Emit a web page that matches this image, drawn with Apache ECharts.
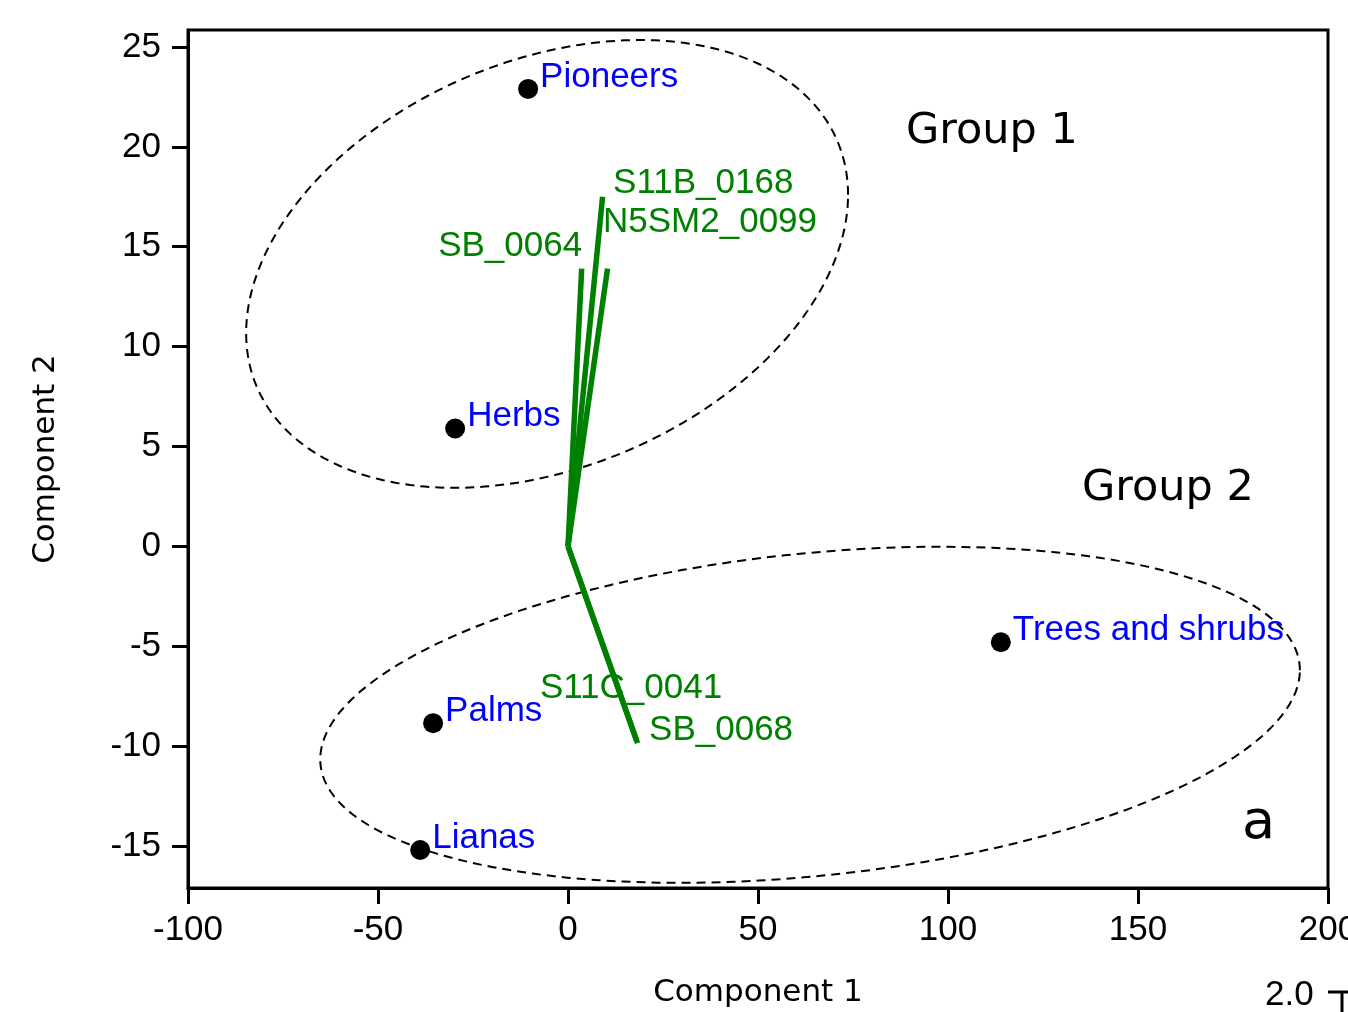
<!DOCTYPE html>
<html><head><meta charset="utf-8">
<script src="https://cdn.jsdelivr.net/npm/echarts@6/dist/echarts.min.js"></script>
<style>html,body{margin:0;padding:0;background:#fff}#c{width:1348px;height:1012px}</style>
</head><body><div id="c"></div>
<script>
// ---- data ----
const groupNames = ['Pioneers', 'Herbs', 'Palms', 'Lianas', 'Trees and shrubs'];
const groupX = [-10.5, -29.7, -35.5, -38.9, 113.9];
const groupY = [22.9, 5.9, -8.85, -15.2, -4.8];

const loadingNames = ['SB_0064', 'S11B_0168', 'N5SM2_0099', 'S11C_0041', 'SB_0068'];
const loadingX = [3.6, 9.1, 10.4, 18.0, 18.3];
const loadingY = [13.9, 17.5, 13.9, -9.7, -9.85];

const ellipseNames = ['Group 1', 'Group 2'];
const ellipseCX = [-5.5, 63.7];
const ellipseCY = [14.14, -8.43];
const ellipseUX = [79.2, 128.9];
const ellipseUY = [3.46, 2.23];
const ellipseVY = [10.66, 8.11];

const xTicks = [-100, -50, 0, 50, 100, 150, 200];
const yTicks = [-15, -10, -5, 0, 5, 10, 15, 20, 25];

// ---- styles ----
const SANS = "'Liberation Sans', Arial, sans-serif";
const DEJA = "'DejaVu Sans', Verdana, sans-serif";
const GREEN = '#008000';
const loadingLabelStyle = {
  'SB_0064':    { position: [1, -22],   align: 'right' },
  'S11B_0168':  { position: [11, -13],  align: 'left' },
  'N5SM2_0099': { position: [-4, -46],  align: 'left' },
  'S11C_0041':  { position: [-96, -51], align: 'left' },
  'SB_0068':    { position: [12, -12],  align: 'left' }
};

const chart = echarts.init(document.getElementById('c'), null, { renderer: 'canvas' });

const series = [];
series.push({
  type: 'custom',
  coordinateSystem: 'cartesian2d',
  silent: true,
  z: 1,
  data: ellipseNames.map((n, i) => [ellipseCX[i], ellipseCY[i], i]),
  encode: { x: 0, y: 1 },
  renderItem: function (params, api) {
    const i = api.value(2);
    const pts = [];
    const N = 240;
    for (let k = 0; k <= N; k++) {
      const t = k / N * 2 * Math.PI;
      pts.push(api.coord([
        ellipseCX[i] + ellipseUX[i] * Math.cos(t),
        ellipseCY[i] + ellipseUY[i] * Math.cos(t) + ellipseVY[i] * Math.sin(t)
      ]));
    }
    return { type: 'polyline', shape: { points: pts },
      style: { fill: null, stroke: '#000', lineWidth: 2, lineDash: [9, 6] } };
  }
});

loadingNames.forEach((n, i) => {
  series.push({
    type: 'line', name: n, z: 3,
    data: [[0, 0], [loadingX[i], loadingY[i]]],
    showSymbol: false, symbol: 'none',
    lineStyle: { color: GREEN, width: 5.5, opacity: 1 },
    silent: true, animation: false
  });
});

series.push({
  type: 'scatter', z: 4, silent: true,
  symbolSize: 1,
  itemStyle: { color: 'transparent', opacity: 1 },
  data: loadingNames.map((n, i) => ({
    value: [loadingX[i], loadingY[i]], name: n,
    label: {
      show: true, formatter: n, color: GREEN, fontSize: 35, fontFamily: SANS,
      position: loadingLabelStyle[n].position, align: loadingLabelStyle[n].align,
      verticalAlign: 'middle'
    }
  }))
});

series.push({
  type: 'scatter', z: 5, silent: true,
  symbolSize: 20,
  itemStyle: { color: '#000', opacity: 1 },
  label: {
    show: true, position: 'right', distance: 2, offset: [0, -12],
    formatter: p => p.name, color: '#0000ff', fontSize: 35, fontFamily: SANS
  },
  data: groupNames.map((n, i) => ({ value: [groupX[i], groupY[i]], name: n }))
});

chart.setOption({
  animation: false,
  backgroundColor: '#fff',
  grid: { left: 188, right: 20, top: 30, bottom: 124, containLabel: false, outerBoundsMode: 'none',
    show: true, borderColor: '#000', borderWidth: 3, backgroundColor: 'transparent' },
  xAxis: {
    type: 'value', min: -100, max: 200, interval: 50,
    name: 'Component 1', nameLocation: 'middle', nameGap: 89,
    nameTextStyle: { fontFamily: DEJA, fontSize: 31, color: '#000' },
    axisLine: { show: true, onZero: false, lineStyle: { color: '#000', width: 3 } },
    axisTick: { show: true, length: 16, lineStyle: { color: '#000', width: 3 }, customValues: xTicks },
    axisLabel: { fontFamily: SANS, fontSize: 35, color: '#000', margin: 25, customValues: xTicks, hideOverlap: false },
    splitLine: { show: false }
  },
  yAxis: {
    type: 'value', min: -17.1, max: 25.85,
    name: 'Component 2', nameLocation: 'middle', nameGap: 127,
    nameTextStyle: { fontFamily: DEJA, fontSize: 31, color: '#000' },
    axisLine: { show: true, onZero: false, lineStyle: { color: '#000', width: 3 } },
    axisTick: { show: true, length: 16, lineStyle: { color: '#000', width: 3 }, customValues: yTicks },
    axisLabel: { fontFamily: SANS, fontSize: 35, color: '#000', margin: 27, customValues: yTicks },
    splitLine: { show: false }
  },
  graphic: [
    { type: 'text', left: 906, top: 110, style: { text: 'Group 1', font: "43px 'DejaVu Sans'", fill: '#000' } },
    { type: 'text', left: 1082, top: 467, style: { text: 'Group 2', font: "43px 'DejaVu Sans'", fill: '#000' } },
    { type: 'text', left: 1242, top: 797, style: { text: 'a', font: "54px 'DejaVu Sans'", fill: '#000' } },
    { type: 'text', left: 1265, top: 978, style: { text: '2.0', font: "35px 'Liberation Sans'", fill: '#000' } },
    { type: 'line', shape: { x1: 1328, y1: 992, x2: 1348, y2: 992 }, style: { stroke: '#000', lineWidth: 3 } },
    { type: 'line', shape: { x1: 1342, y1: 992, x2: 1342, y2: 1012 }, style: { stroke: '#000', lineWidth: 3 } }
  ],
  series: series
});
</script></body></html>
